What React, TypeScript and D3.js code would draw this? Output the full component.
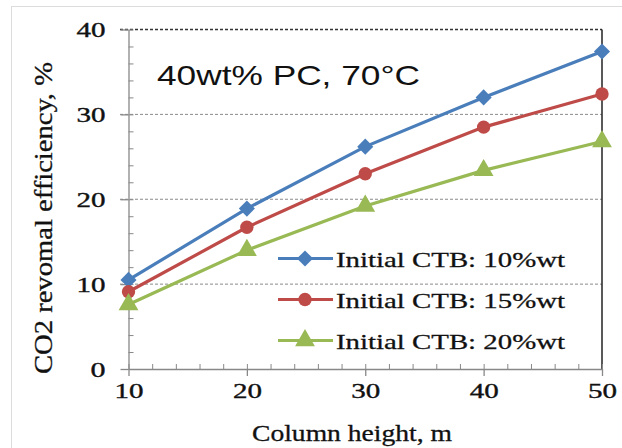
import React, { useEffect, useRef } from 'react';
import * as d3 from 'd3';

// Column heights (m) and CO2 removal efficiency (%) per initial CTB loading
const heights = [10, 20, 30, 40, 50];
const ctb10 = [10.5, 18.9, 26.2, 32.0, 37.4];
const ctb15 = [9.1, 16.7, 23.0, 28.5, 32.4];
const ctb20 = [7.6, 14.0, 19.2, 23.4, 26.8];
const seriesNames = ['Initial CTB: 10%wt', 'Initial CTB: 15%wt', 'Initial CTB: 20%wt'];
const xTicks = [10, 20, 30, 40, 50];
const yTicks = [0, 10, 20, 30, 40];

const App = () => {
    const svgRef = useRef<SVGSVGElement>(null);

    useEffect(() => {
        const W = 622, H = 448;
        const svg = d3.select(svgRef.current);
        svg.selectAll('*').remove();
        svg.attr('width', W).attr('height', H);

        const serif = '"Liberation Serif", "Times New Roman", serif';
        const sans = '"Liberation Sans", Arial, sans-serif';

        // light frame around the picture
        svg.append('rect')
            .attr('x', 11.5).attr('y', 6.5)
            .attr('width', 640).attr('height', 460)
            .attr('fill', '#fff').attr('stroke', '#dcdcdc');

        const x = d3.scaleLinear().domain([10, 50]).range([128.5, 602]);
        const y = d3.scaleLinear().domain([0, 40]).range([369, 29.5]);

        // grid lines (dashed)
        svg.append('g')
            .selectAll('line')
            .data(yTicks.filter(t => t > 0))
            .enter()
            .append('line')
            .attr('x1', 120).attr('x2', 602)
            .attr('y1', d => y(d)).attr('y2', d => y(d))
            .attr('stroke', d => d === 40 ? '#333' : '#8a8a8a')
            .attr('stroke-width', d => d === 40 ? 1.6 : 1)
            .attr('stroke-dasharray', '3,2');

        // right border
        svg.append('line')
            .attr('x1', 602).attr('x2', 602)
            .attr('y1', y(40)).attr('y2', y(0))
            .attr('stroke', '#222').attr('stroke-width', 1.5);

        // minor ticks pointing inward
        const minor = d3.range(10, 50.01, 2);
        svg.append('g')
            .attr('transform', `translate(0,${y(0)})`)
            .call(d3.axisTop(x).tickValues(minor).tickSize(5).tickFormat(() => ''))
            .call(g => g.select('.domain').remove())
            .call(g => g.selectAll('line').attr('stroke', '#888'));
        svg.append('g')
            .attr('transform', `translate(${x(10)},0)`)
            .call(d3.axisRight(y).tickValues(d3.range(0, 40.01, 2)).tickSize(5).tickFormat(() => ''))
            .call(g => g.select('.domain').remove())
            .call(g => g.selectAll('line').attr('stroke', '#888'));

        // main axes
        const xAxis = svg.append('g')
            .attr('transform', `translate(0,${y(0)})`)
            .call(d3.axisBottom(x).tickValues(xTicks).tickSize(7).tickSizeOuter(0).tickPadding(22));
        xAxis.select('.domain').attr('stroke', '#888').attr('stroke-width', 1.3);
        xAxis.selectAll('line').attr('stroke', '#888').attr('stroke-width', 1.3);
        xAxis.selectAll('text')
            .attr('font-family', serif).attr('font-size', 22).attr('fill', '#111')
            .attr('stroke', '#111').attr('stroke-width', 0.4)
            .attr('dy', 0)
            .attr('textLength', 29).attr('lengthAdjust', 'spacingAndGlyphs');

        const yAxis = svg.append('g')
            .attr('transform', `translate(${x(10)},0)`)
            .call(d3.axisLeft(y).tickValues(yTicks).tickSize(8).tickSizeOuter(0).tickPadding(22));
        yAxis.select('.domain').attr('stroke', '#888').attr('stroke-width', 1.3);
        yAxis.selectAll('line').attr('stroke', '#888').attr('stroke-width', 1.3);
        yAxis.selectAll('text')
            .attr('font-family', serif).attr('font-size', 22).attr('fill', '#111')
            .attr('stroke', '#111').attr('stroke-width', 0.4)
            .attr('x', -23)
            .attr('dy', '0.33em')
            .attr('textLength', d => (d === 0 ? 15 : 29))
            .attr('lengthAdjust', 'spacingAndGlyphs');

        // axis titles
        svg.append('text')
            .attr('x', 352).attr('y', 441)
            .attr('text-anchor', 'middle')
            .attr('font-family', serif).attr('font-size', 23).attr('fill', '#111')
            .attr('stroke', '#111').attr('stroke-width', 0.3)
            .attr('textLength', 200).attr('lengthAdjust', 'spacingAndGlyphs')
            .text('Column height, m');
        svg.append('text')
            .attr('transform', 'translate(52,218) rotate(-90)')
            .attr('text-anchor', 'middle')
            .attr('font-family', serif).attr('font-size', 25).attr('fill', '#111')
            .attr('stroke', '#111').attr('stroke-width', 0.3)
            .attr('textLength', 312).attr('lengthAdjust', 'spacingAndGlyphs')
            .text('CO2 revomal efficiency, %');

        // annotation
        svg.append('text')
            .attr('x', 157).attr('y', 85)
            .attr('font-family', sans).attr('font-size', 28).attr('fill', '#111')
            .attr('textLength', 263).attr('lengthAdjust', 'spacingAndGlyphs')
            .text('40wt% PC, 70°C');

        const series = [
            { name: seriesNames[0], values: ctb10, color: '#4a7ebb', shape: d3.symbolDiamond2, size: 165 },
            { name: seriesNames[1], values: ctb15, color: '#be4b48', shape: d3.symbolCircle, size: 140 },
            { name: seriesNames[2], values: ctb20, color: '#98b954', shape: d3.symbolTriangle, size: 170 },
        ];

        const line = d3.line<number>()
            .x((_, i) => x(heights[i]))
            .y(d => y(d));

        series.forEach(s => {
            svg.append('path')
                .datum(s.values)
                .attr('d', line)
                .attr('fill', 'none')
                .attr('stroke', s.color)
                .attr('stroke-width', 3.2);
            svg.selectAll(null)
                .data(s.values)
                .enter()
                .append('path')
                .attr('d', d3.symbol().type(s.shape).size(s.size))
                .attr('transform', (d, i) => `translate(${x(heights[i])},${y(d)})`)
                .attr('fill', s.color);
        });

        // legend
        const legendY = [258.5, 299.5, 340.5];
        series.forEach((s, i) => {
            const g = svg.append('g').attr('transform', `translate(0,${legendY[i]})`);
            g.append('line')
                .attr('x1', 278).attr('x2', 333)
                .attr('y1', 0).attr('y2', 0)
                .attr('stroke', s.color).attr('stroke-width', 3.2);
            g.append('path')
                .attr('d', d3.symbol().type(s.shape).size(s.size)())
                .attr('transform', 'translate(305,0)')
                .attr('fill', s.color);
            g.append('text')
                .attr('x', 336).attr('y', 8)
                .attr('font-family', serif).attr('font-size', 22).attr('fill', '#111')
                .attr('stroke', '#111').attr('stroke-width', 0.3)
                .attr('textLength', 229).attr('lengthAdjust', 'spacingAndGlyphs')
                .text(s.name);
        });
    }, []);

    return (
        <svg ref={svgRef} style={{ position: 'absolute', left: 0, top: 0, background: '#fff' }}></svg>
    );
};

export default App;
